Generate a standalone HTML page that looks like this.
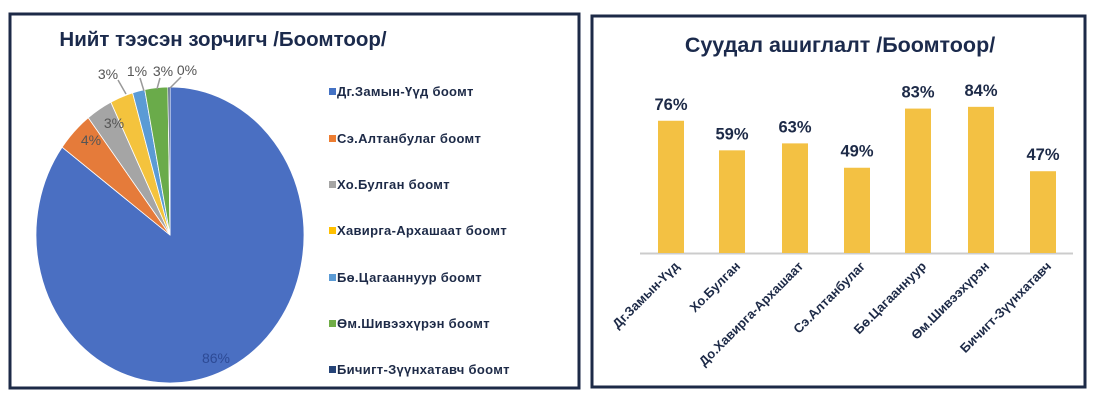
<!DOCTYPE html>
<html><head><meta charset="utf-8"><style>
body{margin:0;width:1113px;height:409px;background:#fff;overflow:hidden;font-family:"Liberation Sans",sans-serif;}
</style></head><body>
<svg width="1113" height="409" xmlns="http://www.w3.org/2000/svg" font-family="Liberation Sans, sans-serif">
<rect x="10" y="14" width="569" height="374" fill="#fff" stroke="#1d2a47" stroke-width="3"/>
<rect x="592" y="16" width="493" height="371" fill="#fff" stroke="#1d2a47" stroke-width="3"/>
<text x="223" y="46" font-size="20.5" font-weight="bold" fill="#1b2a4c" text-anchor="middle">Нийт тээсэн зорчигч /Боомтоор/</text>
<g id="pie"></g>
<g font-size="14" fill="#555">
<text x="108" y="79" text-anchor="middle">3%</text>
<text x="137" y="76" text-anchor="middle">1%</text>
<text x="163" y="76" text-anchor="middle">3%</text>
<text x="187" y="75" text-anchor="middle">0%</text>
<text x="114" y="128" text-anchor="middle">3%</text>
<text x="91" y="145" text-anchor="middle">4%</text>
<text x="216" y="363" text-anchor="middle" fill="#2d4a95">86%</text>
</g>
<g stroke="#999" stroke-width="1.5" fill="none">
<polyline points="118,80 126,94"/>
<polyline points="140,78 144,91"/>
<polyline points="160,78 157,89"/>
<polyline points="181,77 170,88"/>
</g>
<g font-size="13" font-weight="bold" fill="#1d2a47" letter-spacing="0.3">
<rect x="329" y="88" width="7" height="7" fill="#4472c4"/><text x="337" y="96">Дг.Замын-Үүд боомт</text>
<rect x="329" y="135" width="7" height="7" fill="#ed7d31"/><text x="337" y="143">Сэ.Алтанбулаг боомт</text>
<rect x="329" y="181" width="7" height="7" fill="#a5a5a5"/><text x="337" y="189">Хо.Булган боомт</text>
<rect x="329" y="227" width="7" height="7" fill="#ffc000"/><text x="337" y="235">Хавирга-Архашаат боомт</text>
<rect x="329" y="274" width="7" height="7" fill="#5b9bd5"/><text x="337" y="282">Бө.Цагааннуур боомт</text>
<rect x="329" y="320" width="7" height="7" fill="#70ad47"/><text x="337" y="328">Өм.Шивээхүрэн боомт</text>
<rect x="329" y="366" width="7" height="7" fill="#264478"/><text x="337" y="374">Бичигт-Зүүнхатавч боомт</text>
</g>
<text x="840" y="52" font-size="21.5" font-weight="bold" fill="#1b2a4c" text-anchor="middle">Суудал ашиглалт /Боомтоор/</text>
<line x1="640" y1="253.5" x2="1073" y2="253.5" stroke="#ccc" stroke-width="2"/>
<g id="bars"></g>
</svg>
<script>
var ns="http://www.w3.org/2000/svg";
var cx=170,cy=235,rx=134,ry=148;
var sl=[[86,"#4a6fc2"],[4.5,"#e57b3a"],[3.2,"#a5a5a5"],[2.8,"#f4c33d"],[1.5,"#5b9bd5"],[2.8,"#6aab4a"],[0.25,"#1f3560"]];
var tot=sl.reduce(function(a,b){return a+b[0]},0),a=0,g=document.getElementById("pie");
sl.forEach(function(s){var a2=a+s[0]/tot*2*Math.PI;
var x1=cx+rx*Math.sin(a),y1=cy-ry*Math.cos(a),x2=cx+rx*Math.sin(a2),y2=cy-ry*Math.cos(a2);
var p=document.createElementNS(ns,"path");
p.setAttribute("d","M"+cx+","+cy+"L"+x1+","+y1+"A"+rx+","+ry+" 0 "+((a2-a)>Math.PI?1:0)+" 1 "+x2+","+y2+"Z");
p.setAttribute("fill",s[1]);p.setAttribute("stroke","#fff");p.setAttribute("stroke-width","0.8");g.appendChild(p);a=a2;});
var bars=[[671,76,"Дг.Замын-Үүд"],[732,59,"Хо.Булган"],[795,63,"До.Хавирга-Архашаат"],[857,49,"Сэ.Алтанбулаг"],[918,83,"Бө.Цагааннуур"],[981,84,"Өм.Шивээхүрэн"],[1043,47,"Бичигт-Зүүнхатавч"]];
var gb=document.getElementById("bars");
bars.forEach(function(b){var h=b[1]*1.74,top=253-h;
var r=document.createElementNS(ns,"rect");r.setAttribute("x",b[0]-13);r.setAttribute("y",top);r.setAttribute("width",26);r.setAttribute("height",h);r.setAttribute("fill","#f3c143");gb.appendChild(r);
var t=document.createElementNS(ns,"text");t.setAttribute("x",b[0]);t.setAttribute("y",top-11);t.setAttribute("text-anchor","middle");t.setAttribute("font-size","16.5");t.setAttribute("font-weight","bold");t.setAttribute("fill","#1d2a47");t.textContent=b[1]+"%";gb.appendChild(t);
var l=document.createElementNS(ns,"text");l.setAttribute("transform","translate("+(b[0]+9)+",267) rotate(-45)");l.setAttribute("text-anchor","end");l.setAttribute("font-size","13");l.setAttribute("font-weight","bold");l.setAttribute("fill","#1d2a47");l.textContent=b[2];gb.appendChild(l);});
</script>
</body></html>
